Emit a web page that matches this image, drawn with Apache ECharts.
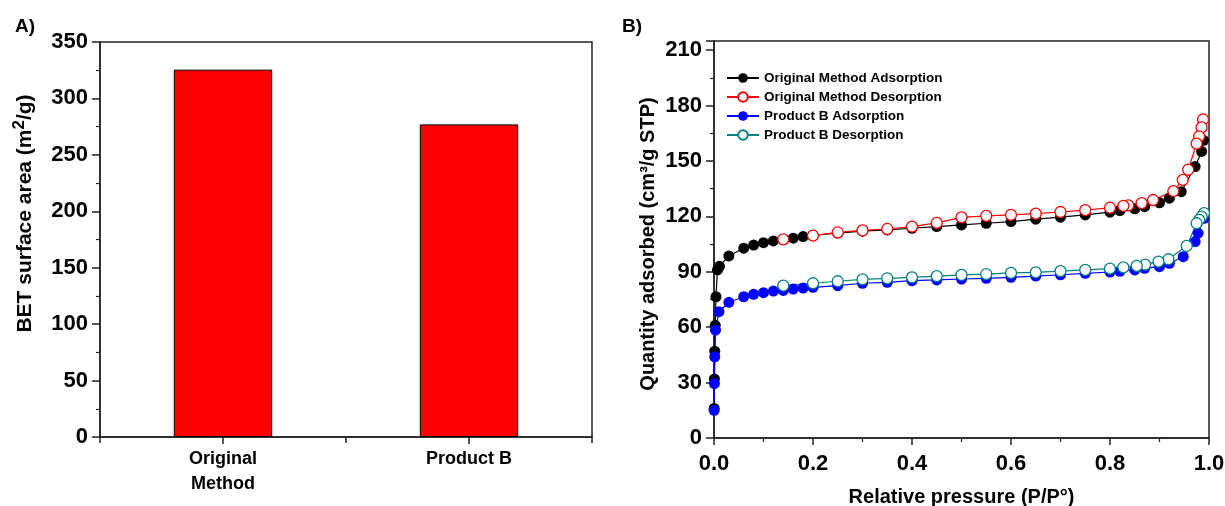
<!DOCTYPE html>
<html>
<head>
<meta charset="utf-8">
<script src="https://cdn.jsdelivr.net/npm/echarts@6/dist/echarts.min.js"></script>
<style>
  html, body { margin: 0; padding: 0; background: #fff; }
  #chart { width: 1225px; height: 506px; }
</style>
</head>
<body>
<div id="chart"></div>
<script>
// panel A: BET surface area
const betCategories = ["Original\nMethod", "Product B"];
const betValues = [325.5, 277];

// panel B: N2 isotherms (P/P0, quantity adsorbed)
const origAdsP = [0.0003, 0.0008, 0.0015, 0.0025, 0.004, 0.007, 0.011, 0.03, 0.06, 0.08, 0.10, 0.12, 0.14, 0.16, 0.18, 0.20, 0.25, 0.30, 0.35, 0.40, 0.45, 0.50, 0.55, 0.60, 0.65, 0.70, 0.75, 0.80, 0.82, 0.85, 0.87, 0.90, 0.92, 0.944, 0.972, 0.985, 0.989];
const origAdsQ = [16, 32, 47, 61, 76.5, 91, 93, 98.6, 102.8, 104.5, 105.8, 106.7, 107.5, 108.2, 109.1, 109.8, 111, 112, 112.7, 113.6, 114.5, 115.4, 116.3, 117.2, 118.5, 119.6, 120.8, 122.3, 123.2, 124.1, 125.3, 127.4, 129.9, 133.4, 147, 155.2, 161.2];
const origDesP = [0.988, 0.985, 0.98, 0.975, 0.958, 0.947, 0.928, 0.887, 0.864, 0.837, 0.827, 0.80, 0.75, 0.70, 0.65, 0.60, 0.55, 0.50, 0.45, 0.40, 0.35, 0.30, 0.25, 0.20, 0.14];
const origDesQ = [172.5, 168.2, 163.3, 159.4, 145.3, 139.8, 133.7, 128.9, 127.2, 126.0, 125.7, 124.7, 123.4, 122.4, 121.5, 120.8, 120.3, 119.5, 116.5, 114.5, 113.2, 112.4, 111.4, 109.6, 107.6];
const prodAdsP = [0.0003, 0.0008, 0.0015, 0.003, 0.01, 0.03, 0.06, 0.08, 0.10, 0.12, 0.14, 0.16, 0.18, 0.20, 0.25, 0.30, 0.35, 0.40, 0.45, 0.50, 0.55, 0.60, 0.65, 0.70, 0.75, 0.80, 0.82, 0.85, 0.87, 0.90, 0.92, 0.948, 0.972, 0.978, 0.99];
const prodAdsQ = [15, 29.5, 44, 58.4, 68.4, 73.5, 76.5, 77.8, 78.7, 79.6, 79.9, 80.7, 81.2, 81.6, 82.5, 83.8, 84.3, 85.2, 85.6, 86.1, 86.5, 87.0, 87.7, 88.4, 89.2, 89.9, 90.3, 91.0, 91.9, 92.8, 94.6, 98.2, 106.4, 110.9, 119];
const prodDesP = [0.99, 0.985, 0.98, 0.975, 0.955, 0.918, 0.898, 0.871, 0.854, 0.827, 0.80, 0.75, 0.70, 0.65, 0.60, 0.55, 0.50, 0.45, 0.40, 0.35, 0.30, 0.25, 0.20, 0.14];
const prodDesQ = [121.8, 119.9, 118.1, 116.3, 104, 96.8, 95.5, 93.9, 93.2, 92.4, 91.7, 91.0, 90.4, 89.7, 89.4, 88.8, 88.3, 87.7, 87.0, 86.5, 85.9, 84.9, 83.8, 82.5];

const FONT = "'Liberation Sans', Arial, sans-serif";
const AXIS = "#222";

const pairs = (xs, ys) => xs.map((x, i) => [x, ys[i]]);

const axisLine = { lineStyle: { color: AXIS, width: 1.5 } };
const tickLabel = { color: "#000", fontFamily: FONT, fontWeight: "bold", fontSize: 22 };
const majorTick = (len) => ({ show: true, length: len, lineStyle: { color: AXIS, width: 1.5 } });
const minorTick = { show: true, splitNumber: 2, length: 4, lineStyle: { color: AXIS, width: 1.2 } };

const chart = echarts.init(document.getElementById("chart"));

function isoSeries(name, xs, ys, color, hollow) {
  return {
    name,
    type: "line",
    xAxisIndex: 2,
    yAxisIndex: 1,
    data: pairs(xs, ys),
    symbol: "circle",
    symbolSize: 11,
    showSymbol: true,
    lineStyle: { color, width: 1.2 },
    itemStyle: hollow
      ? { color: "#fff", borderColor: color, borderWidth: 1.3 }
      : { color, borderColor: color, borderWidth: 0 },
  };
}

chart.setOption({
  animation: false,
  textStyle: { fontFamily: FONT },
  graphic: [
    { type: "text", left: 15, top: 17, style: { text: "A)", font: "bold 19px " + FONT, fill: "#000" } },
    { type: "text", left: 622, top: 17, style: { text: "B)", font: "bold 19px " + FONT, fill: "#000" } },
  ],
  legend: {
    orient: "vertical",
    left: 726,
    top: 71,
    padding: 0,
    itemWidth: 32,
    itemHeight: 12,
    itemGap: 5,
    textStyle: { color: "#000", fontFamily: FONT, fontWeight: "bold", fontSize: 13.5 },
    data: [
      "Original Method Adsorption",
      "Original Method Desorption",
      "Product B Adsorption",
      "Product B Desorption",
    ],
  },
  grid: [
    { left: 100, top: 42, width: 492, height: 395, outerBoundsMode: "none", show: true, borderColor: AXIS, borderWidth: 1.5, backgroundColor: "transparent" },
    { left: 714, top: 41, width: 495, height: 397, outerBoundsMode: "none", show: true, borderColor: AXIS, borderWidth: 1.5, backgroundColor: "transparent" },
  ],
  xAxis: [
    {
      gridIndex: 0,
      type: "category",
      position: "bottom",
      data: betCategories,
      axisLine,
      axisTick: { ...majorTick(7), alignWithLabel: true },
      axisLabel: { ...tickLabel, fontSize: 18, lineHeight: 25, margin: 10 },
    },
    {
      // boundary ticks between / after the bars
      gridIndex: 0,
      type: "category",
      position: "bottom",
      data: betCategories,
      axisLine: { show: false },
      axisTick: majorTick(6),
      axisLabel: { show: false },
    },
    {
      gridIndex: 1,
      type: "value",
      min: 0,
      max: 1,
      interval: 0.2,
      axisLine,
      axisTick: majorTick(7),
      minorTick,
      splitLine: { show: false },
      axisLabel: { ...tickLabel, margin: 15, formatter: (v) => v.toFixed(1) },
      name: "Relative pressure (P/P°)",
      nameLocation: "middle",
      nameGap: 49,
      nameTextStyle: { color: "#000", fontFamily: FONT, fontWeight: "bold", fontSize: 20 },
    },
  ],
  yAxis: [
    {
      gridIndex: 0,
      type: "value",
      min: 0,
      max: 350,
      interval: 50,
      axisLine: { show: true, ...axisLine },
      axisTick: majorTick(8),
      minorTick,
      splitLine: { show: false },
      axisLabel: { ...tickLabel, margin: 12 },
      name: "{t|BET surface area (m}{s|2}{t|/g)}",
      nameLocation: "middle",
      nameRotate: 90,
      nameGap: 60,
      nameTextStyle: {
        padding: [0, 0, 0, 52],
        rich: {
          t: { color: "#000", fontFamily: FONT, fontWeight: "bold", fontSize: 21 },
          s: { color: "#000", fontFamily: FONT, fontWeight: "bold", fontSize: 17, padding: [0, 0, 12, 0] },
        },
      },
    },
    {
      gridIndex: 1,
      type: "value",
      min: 0,
      max: 215,
      interval: 30,
      axisLine: { show: true, ...axisLine },
      axisTick: majorTick(8),
      minorTick,
      splitLine: { show: false },
      axisLabel: { ...tickLabel, margin: 12 },
      name: "Quantity adsorbed (cm³/g STP)",
      nameLocation: "middle",
      nameRotate: 90,
      nameGap: 56,
      nameTextStyle: { color: "#000", fontFamily: FONT, fontWeight: "bold", fontSize: 20, padding: [0, 9, 0, 0] },
    },
  ],
  series: [
    {
      name: "BET",
      type: "bar",
      xAxisIndex: 0,
      yAxisIndex: 0,
      data: betValues,
      barWidth: "40%",
      itemStyle: { color: "#FF0000", borderColor: "#000", borderWidth: 1 },
    },
    isoSeries("Original Method Adsorption", origAdsP, origAdsQ, "#000000", false),
    isoSeries("Original Method Desorption", origDesP, origDesQ, "#FF0000", true),
    isoSeries("Product B Adsorption", prodAdsP, prodAdsQ, "#0000FF", false),
    isoSeries("Product B Desorption", prodDesP, prodDesQ, "#008080", true),
  ],
});
</script>
</body>
</html>
